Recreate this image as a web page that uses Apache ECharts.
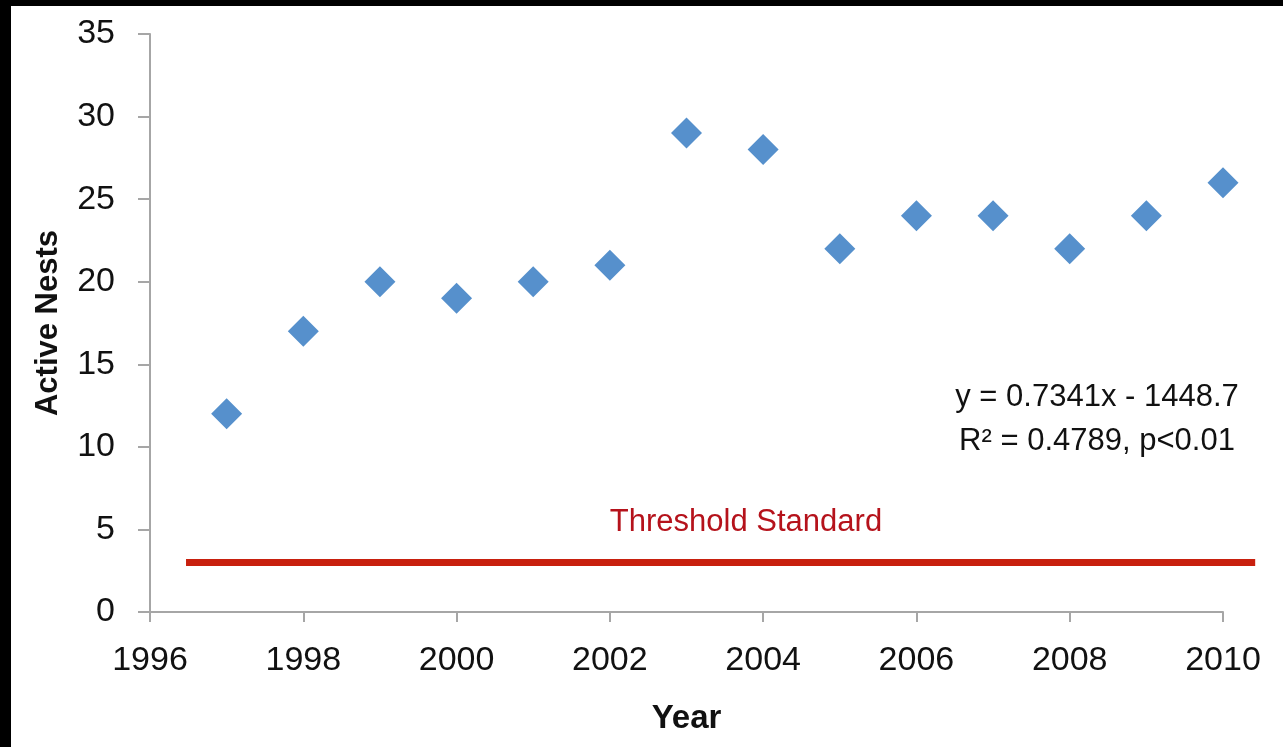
<!DOCTYPE html>
<html>
<head>
<meta charset="utf-8">
<script src="https://cdn.jsdelivr.net/npm/echarts@6/dist/echarts.min.js"></script>
<style>
html,body{margin:0;padding:0;background:#fff;}
#chart{width:1283px;height:747px;}
</style>
</head>
<body>
<div id="chart"></div>
<script>
// Data
const years = [1997, 1998, 1999, 2000, 2001, 2002, 2003, 2004, 2005, 2006, 2007, 2008, 2009, 2010];
const activeNests = [12, 17, 20, 19, 20, 21, 29, 28, 22, 24, 24, 22, 24, 26];
const thresholdValue = 3;
const thresholdSpan = [1996.47, 2010.42];
const yTicks = [0, 5, 10, 15, 20, 25, 30, 35];
const xTicks = [1996, 1998, 2000, 2002, 2004, 2006, 2008, 2010];
const equationLines = ['y = 0.7341x - 1448.7', 'R\u00B2 = 0.4789, p<0.01'];
const thresholdLabel = 'Threshold Standard';

const FONT = '"Liberation Sans", Arial, sans-serif';

const chart = echarts.init(document.getElementById('chart'), null, {renderer: 'canvas'});
chart.setOption({
  backgroundColor: '#ffffff',
  animation: false,
  grid: {left: 150, top: 34, right: 60, bottom: 135, containLabel: false},
  xAxis: {
    type: 'value', min: xTicks[0], max: xTicks[xTicks.length - 1], interval: 2,
    name: 'Year', nameLocation: 'middle', nameGap: 90,
    nameTextStyle: {fontFamily: FONT, fontSize: 33, fontWeight: 'bold', color: '#111'},
    axisLine: {show: true, lineStyle: {color: '#a6a6a6', width: 2}},
    axisTick: {show: true, length: 10, lineStyle: {color: '#a6a6a6', width: 2}},
    axisLabel: {fontFamily: FONT, fontSize: 34, color: '#111', margin: 32, formatter: v => String(v)},
    splitLine: {show: false}
  },
  yAxis: {
    type: 'value', min: yTicks[0], max: yTicks[yTicks.length - 1], interval: 5,
    name: 'Active Nests', nameLocation: 'middle', nameGap: 86, nameRotate: 90,
    nameTextStyle: {fontFamily: FONT, fontSize: 31, fontWeight: 'bold', color: '#111'},
    axisLine: {show: true, lineStyle: {color: '#a6a6a6', width: 2}},
    axisTick: {show: true, length: 12, lineStyle: {color: '#a6a6a6', width: 2}},
    axisLabel: {fontFamily: FONT, fontSize: 34, color: '#111', margin: 35, padding: [6, 0, 0, 0]},
    splitLine: {show: false}
  },
  series: [
    {
      type: 'custom',
      clip: false,
      silent: true,
      z: 1,
      data: [[thresholdSpan[0], thresholdSpan[1], thresholdValue]],
      renderItem: function (params, api) {
        const p0 = api.coord([api.value(0), api.value(2)]);
        const p1 = api.coord([api.value(1), api.value(2)]);
        return {
          type: 'line',
          shape: {x1: p0[0], y1: p0[1], x2: p1[0], y2: p1[1]},
          style: {stroke: '#c8200e', lineWidth: 7}
        };
      }
    },
    {
      type: 'scatter',
      data: years.map((y, i) => [y, activeNests[i]]),
      symbol: 'diamond',
      symbolSize: 31,
      itemStyle: {color: '#5690cc', opacity: 1},
      z: 3
    }
  ],
  graphic: [
    {type: 'rect', left: 0, top: 0, shape: {width: 11, height: 747}, style: {fill: '#000'}, z: 100},
    {type: 'rect', left: 0, top: 0, shape: {width: 1283, height: 6}, style: {fill: '#000'}, z: 100},
    {type: 'text', x: 1097, y: 397, style: {text: equationLines[0], fontFamily: FONT, fontSize: 31, fill: '#111', textAlign: 'center', textVerticalAlign: 'middle'}},
    {type: 'text', x: 1097, y: 441, style: {text: equationLines[1], fontFamily: FONT, fontSize: 31, fill: '#111', textAlign: 'center', textVerticalAlign: 'middle'}},
    {type: 'text', x: 746, y: 522, style: {text: thresholdLabel, fontFamily: FONT, fontSize: 31, fill: '#b5121b', textAlign: 'center', textVerticalAlign: 'middle'}}
  ]
});
</script>
</body>
</html>
